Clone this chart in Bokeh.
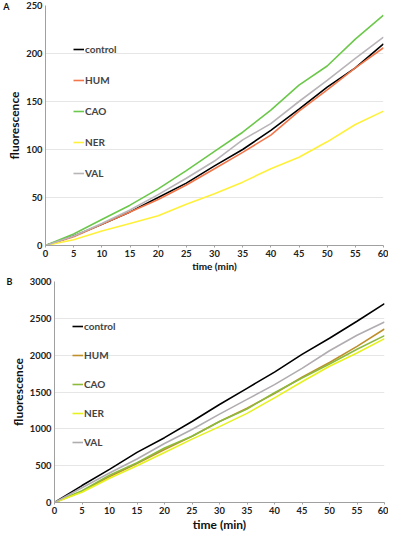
from bokeh.plotting import figure
from bokeh.models import Legend, LegendItem, FixedTicker, Range1d, LinearAxis
from bokeh.layouts import column, row
from bokeh.embed import file_html
from bokeh.resources import INLINE

time_min = [0, 5, 10, 15, 20, 25, 30, 35, 40, 45, 50, 55, 60]
series_names = ["control", "HUM", "CAO", "NER", "VAL"]

a_control = [0, 10, 22, 35, 50, 65, 83, 100, 120, 142, 165, 185, 210]
a_hum = [0, 9, 22, 35, 48, 63, 80, 97, 115, 140, 162, 185, 206]
a_cao = [0, 12, 27, 42, 59, 78, 98, 118, 141, 167, 187, 215, 240]
a_ner = [0, 6, 15, 23, 31, 43, 54, 66, 80, 92, 108, 126, 140]
a_val = [0, 10, 23, 37, 53, 70, 88, 110, 127, 150, 172, 195, 217]

b_control = [0, 230, 450, 680, 880, 1100, 1330, 1550, 1770, 2010, 2230, 2460, 2700]
b_hum = [0, 150, 350, 530, 720, 900, 1100, 1280, 1480, 1700, 1900, 2120, 2355]
b_cao = [0, 160, 370, 540, 740, 900, 1100, 1270, 1490, 1690, 1880, 2080, 2265]
b_ner = [0, 140, 330, 500, 680, 860, 1030, 1210, 1420, 1640, 1850, 2030, 2225]
b_val = [0, 200, 400, 590, 800, 990, 1200, 1400, 1600, 1820, 2060, 2270, 2450]

a_ticks = [0, 50, 100, 150, 200, 250]
b_ticks = [0, 500, 1000, 1500, 2000, 2500, 3000]
x_ticks = [0, 5, 10, 15, 20, 25, 30, 35, 40, 45, 50, 55, 60]

colors_a = ["#000000", "#F2764A", "#6CC84A", "#FFF03A", "#B8B4B8"]
colors_b = ["#000000", "#BF8F2A", "#8CBA3C", "#E6F21E", "#B0ACB0"]

FONT = "Lato"


def make_panel(series, colors, yticks, ymax, letter, height, bl, bt, br, bb, loc, spacing,
               xlabel_size, ylabel_standoff):
    p = figure(width=388, height=height, output_backend="svg", toolbar_location=None,
               x_range=Range1d(0, 60), y_range=Range1d(0, ymax),
               min_border_left=bl, min_border_top=bt, min_border_right=br, min_border_bottom=bb)
    p.outline_line_color = None
    p.xgrid.grid_line_color = None
    p.ygrid.grid_line_color = "#E6E6E6"
    p.ygrid.grid_line_width = 1
    p.xaxis.ticker = FixedTicker(ticks=x_ticks)
    p.yaxis.ticker = FixedTicker(ticks=yticks)
    for ax in (p.xaxis[0], p.yaxis[0]):
        ax.axis_line_color = "#A0A0A0"
        ax.minor_tick_line_color = None
        ax.minor_tick_out = 0
        ax.minor_tick_in = 0
        ax.major_label_text_font = FONT
        ax.major_label_text_font_style = "bold"
        ax.major_label_text_font_size = "7pt"
        ax.major_label_text_color = "#222222"
        ax.axis_label_text_font = FONT
        ax.axis_label_text_font_style = "bold"
        ax.axis_label_text_color = "#111111"
    p.xaxis.major_tick_line_color = "#A0A0A0"
    p.xaxis.major_tick_out = 2
    p.xaxis.major_tick_in = 0
    p.yaxis.major_tick_line_color = None
    p.yaxis.major_tick_out = 0
    p.yaxis.major_tick_in = 0
    p.xaxis.major_label_standoff = 2
    p.yaxis.major_label_standoff = 3
    p.xaxis.axis_label = "time (min)"
    p.xaxis.axis_label_text_font_size = xlabel_size
    p.xaxis.axis_label_standoff = 0
    p.yaxis.axis_label = "fluorescence"
    p.yaxis.axis_label_text_font_size = "12px"
    p.yaxis.axis_label_standoff = ylabel_standoff

    # panel letter: the only label of an outer, invisible axis (pulled inward)
    lax = LinearAxis(ticker=FixedTicker(ticks=[ymax]), major_label_overrides={ymax: letter},
                     axis_line_color=None, major_tick_line_color=None, minor_tick_line_color=None,
                     major_tick_out=0, major_tick_in=0, minor_tick_out=0, minor_tick_in=0,
                     major_label_standoff=-5, major_label_text_font=FONT,
                     major_label_text_font_style="bold", major_label_text_font_size="9px",
                     major_label_text_color="#111111")
    p.add_layout(lax, "left")

    items = []
    for name, ys, c in zip(series_names, series, colors):
        r = p.line(time_min, ys, line_color=c, line_width=1.6)
        items.append(LegendItem(label=name, renderers=[r]))
    leg = Legend(items=items, location=loc, background_fill_alpha=0, border_line_color=None,
                 padding=0, margin=0, glyph_width=11, glyph_height=20, label_height=20,
                 spacing=spacing, label_standoff=1, label_text_font=FONT,
                 label_text_font_style="bold", label_text_font_size="10px")
    p.add_layout(leg, "center")
    return p


pa = make_panel([a_control, a_hum, a_cao, a_ner, a_val], colors_a, a_ticks, 250, "A",
                274, 43, 5, 5, 29, (28, 62), 11, "10px", 1)
pb = make_panel([b_control, b_hum, b_cao, b_ner, b_val], colors_b, b_ticks, 3000, "B",
                260, 54, 7, 4, 32, (18, 50), 9, "12px", 1)

layout = column(row(pa), row(pb), spacing=0)
open("out.html", "w").write(file_html(layout, INLINE))
